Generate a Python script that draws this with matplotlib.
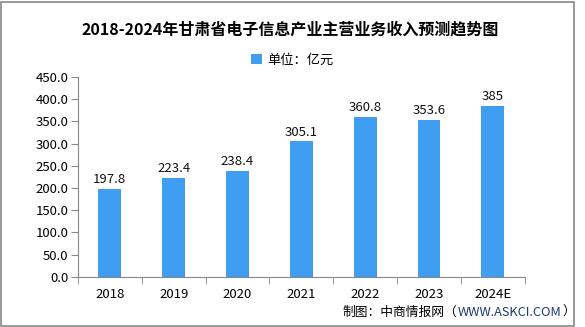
import matplotlib
matplotlib.use('Agg')
import matplotlib.pyplot as plt
from matplotlib.patches import Rectangle

plt.rcParams['font.family'] = ['Noto Sans CJK SC', 'DejaVu Sans']

years = ['2018', '2019', '2020', '2021', '2022', '2023', '2024E']
revenue = [197.8, 223.4, 238.4, 305.1, 360.8, 353.6, 385]
value_labels = ['197.8', '223.4', '238.4', '305.1', '360.8', '353.6', '385']
yticks = [0, 50, 100, 150, 200, 250, 300, 350, 400, 450]

fig = plt.figure(figsize=(5.85, 3.27), dpi=100)
ax = fig.add_axes([0.1333, 0.153, 0.7637, 0.612])

x = list(range(len(years)))
bars = ax.bar(x, revenue, width=0.36, color='#3f9ef1', label='单位：亿元', zorder=2)
for xi, v, lab in zip(x, revenue, value_labels):
    ax.text(xi, v + 6, lab, ha='center', va='bottom', fontsize=9.5, color='#111111')

ax.set_xlim(-0.5, len(years) - 0.5)
ax.set_ylim(0, 450)
ax.set_yticks(yticks)
ax.set_yticklabels(['%.1f' % t for t in yticks], fontsize=9.5)
ax.set_xticks(x)
ax.set_xticklabels(years, fontsize=9.5)
ax.tick_params(axis='x', length=0, pad=8)
ax.set_xticks([i + 0.5 for i in range(-1, len(years))], minor=True)
ax.tick_params(axis='x', which='minor', length=5, color='#888888')
ax.tick_params(axis='y', length=5, color='#888888', pad=2)

for s in ['top', 'right']:
    ax.spines[s].set_visible(False)
ax.spines['left'].set_color('#888888')
ax.spines['bottom'].set_color('#888888')

fig.text(0.496, 0.91, '2018-2024年甘肃省电子信息产业主营业务收入预测趋势图',
         ha='center', va='center', fontsize=11.5, fontweight='bold')
fig.legend(handles=[bars], loc='center', bbox_to_anchor=(0.5, 0.815), frameon=False,
           fontsize=9.5, handlelength=0.8, handleheight=0.8, handletextpad=0.4)

# footer: three pieces placed one after another
renderer = fig.canvas.get_renderer()
x0 = 342
parts = [('制图：中商情报网（', 'black'), ('WWW.ASKCI.COM', '#1f3a6e'), ('）', 'black')]
for txt, col in parts:
    t = fig.text(x0 / 585, 0.045, txt, ha='left', va='center', fontsize=9.2, color=col)
    bb = t.get_window_extent(renderer)
    x0 = bb.x1 + 1

fig.patches.append(Rectangle((0.002, 0.004), 0.98, 0.99, transform=fig.transFigure,
                             fill=False, edgecolor='#888888', linewidth=1.2))

fig.savefig('out.png', dpi=100)
